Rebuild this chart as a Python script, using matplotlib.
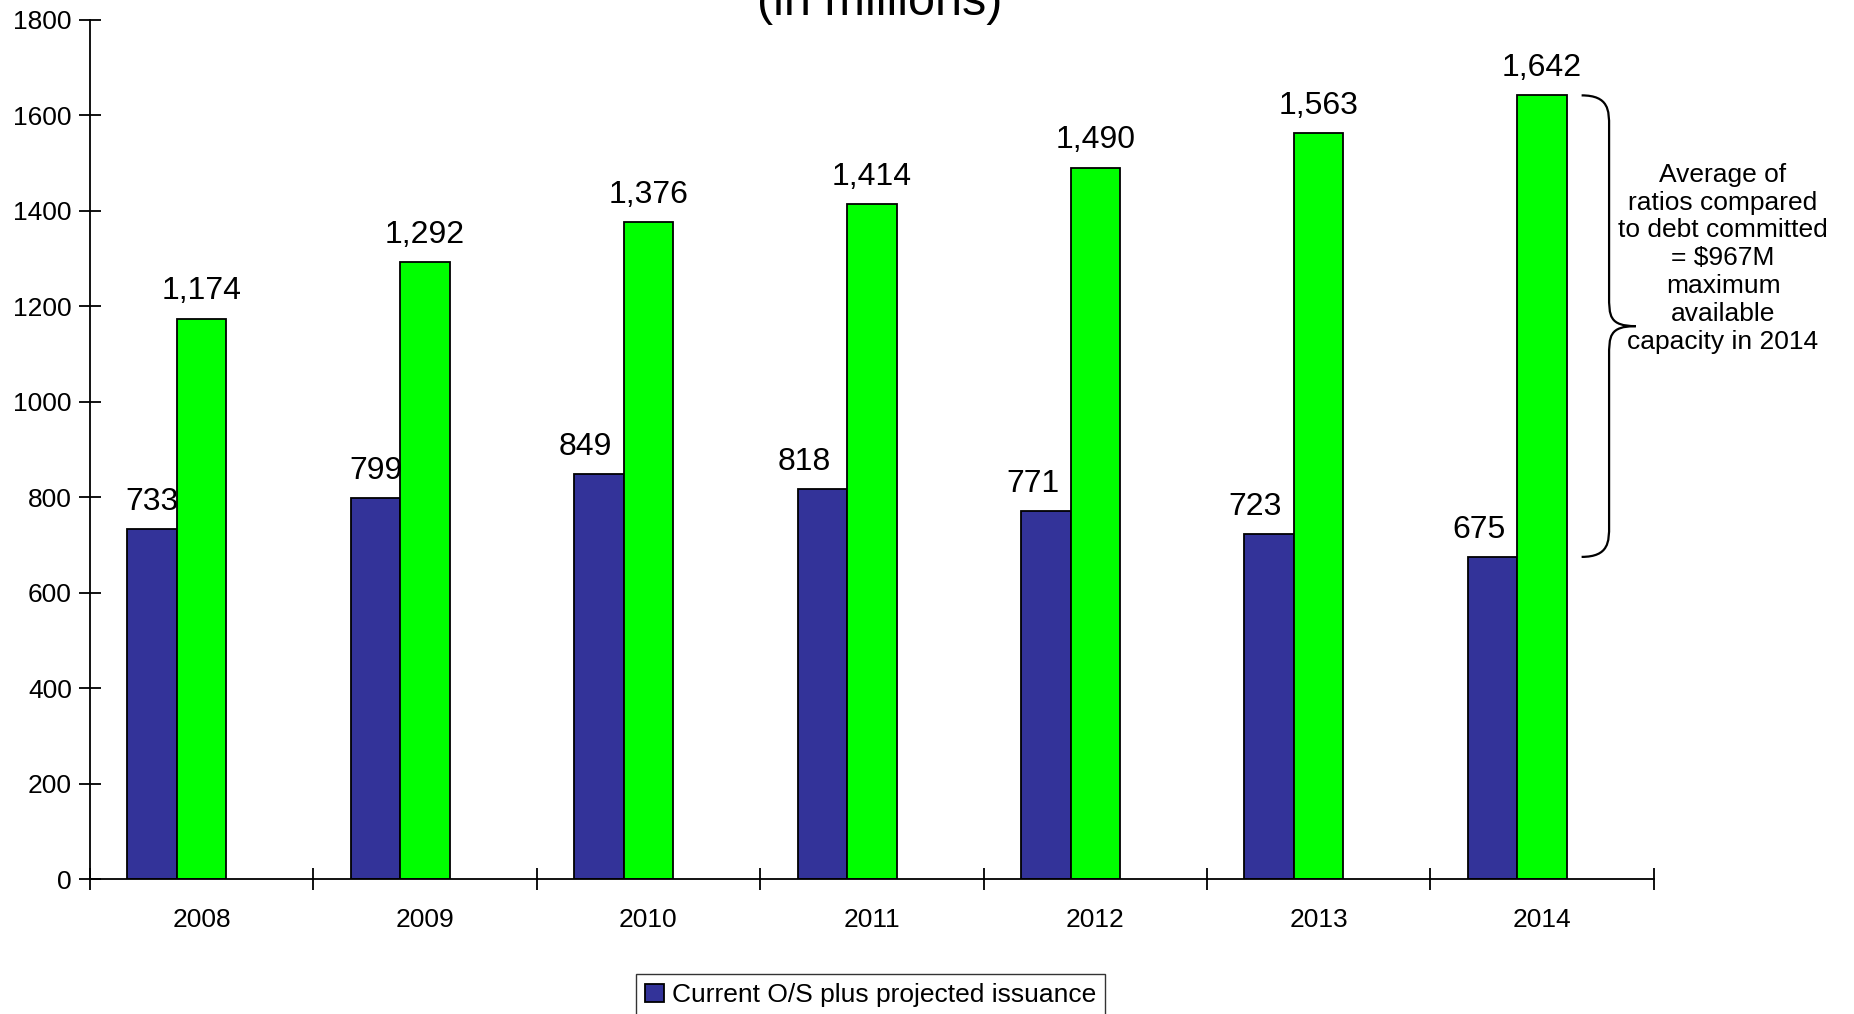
import matplotlib
matplotlib.use("Agg")
import matplotlib.pyplot as plt
import numpy as np
from matplotlib.path import Path
from matplotlib.patches import PathPatch

plt.rcParams['font.family'] = ['Liberation Sans', 'DejaVu Sans']

years = ['2008', '2009', '2010', '2011', '2012', '2013', '2014']
current_os = [733, 799, 849, 818, 771, 723, 675]
capacity = [1174, 1292, 1376, 1414, 1490, 1563, 1642]
series_name = 'Current O/S plus projected issuance'
note = 'Average of\nratios compared\nto debt committed\n= $967M\nmaximum\navailable\ncapacity in 2014'

# the blue labels were nudged left by hand in the original (points)
blue_label_dx = [0, 0, -10, -13, -9, -10, -10]

blue = '#333399'
green = '#00FF00'

fig = plt.figure(figsize=(18.54, 10.14), dpi=100)
ax = fig.add_axes([0.0485, 0.1331, 0.8435, 0.8472])

x = np.arange(len(years)) + 0.5
w = 0.2214
b1 = ax.bar(x - w, current_os, w, color=blue, edgecolor='black', linewidth=1.3,
            label=series_name)
b2 = ax.bar(x, capacity, w, color=green, edgecolor='black', linewidth=1.3)

for xi, v, dx in zip(x - w, current_os, blue_label_dx):
    ax.annotate(f'{v:,}', (xi, v), xytext=(dx, 13.5), textcoords='offset points',
                ha='center', va='baseline', fontsize=23)
for xi, v in zip(x, capacity):
    ax.annotate(f'{v:,}', (xi, v), xytext=(0, 14), textcoords='offset points',
                ha='center', va='baseline', fontsize=23)

ax.set_xlim(0, len(years))
ax.set_ylim(0, 1800)
ax.set_yticks(np.arange(0, 1801, 200))
ax.set_xticks(x)
ax.set_xticklabels(years)
ax.set_xticks(np.arange(0, len(years) + 1), minor=True)
ax.tick_params(axis='x', which='major', length=0, pad=21, labelsize=19)
ax.tick_params(axis='x', which='minor', direction='inout', length=16, width=1.3)
ax.tick_params(axis='y', direction='inout', length=16, width=1.3, pad=5, labelsize=19)

for s in ['top', 'right']:
    ax.spines[s].set_visible(False)
for s in ['left', 'bottom']:
    ax.spines[s].set_linewidth(1.3)

# brace next to the 2014 pair, from the blue top to the green top
lo, hi = current_os[-1], capacity[-1]
mid = (lo + hi) / 2
x0, xs, xt = 6.677, 6.80, 6.92
r = 65
verts = [
    (x0, hi), (xs, hi), (xs, hi - r / 2), (xs, hi - r),
    (xs, mid + r),
    (xs, mid + r / 3), (xs, mid), (xt, mid),
    (xs, mid), (xs, mid - r / 3), (xs, mid - r),
    (xs, lo + r),
    (xs, lo + r / 2), (xs, lo), (x0, lo),
]
codes = [Path.MOVETO, Path.CURVE4, Path.CURVE4, Path.CURVE4,
         Path.LINETO,
         Path.CURVE4, Path.CURVE4, Path.CURVE4,
         Path.CURVE4, Path.CURVE4, Path.CURVE4,
         Path.LINETO,
         Path.CURVE4, Path.CURVE4, Path.CURVE4]
ax.add_patch(PathPatch(Path(verts, codes), facecolor='none', edgecolor='black',
                       linewidth=1.6, clip_on=False))

ax.text(7.31, 1301, note, ha='center', va='center', fontsize=19,
        linespacing=1.2, clip_on=False)

fig.text(0.4746, 0.985, '(in millions)', ha='center', va='baseline', fontsize=35)

leg = fig.legend(handles=[b1], labels=[series_name], loc='upper center',
                 bbox_to_anchor=(0.4695, 0.0394), fontsize=19, frameon=True,
                 fancybox=False, edgecolor='black', handlelength=0.7,
                 handleheight=0.7, handletextpad=0.3, borderpad=0.35,
                 borderaxespad=0)
leg.get_frame().set_linewidth(1.0)

fig.savefig('out.png', dpi=100)
